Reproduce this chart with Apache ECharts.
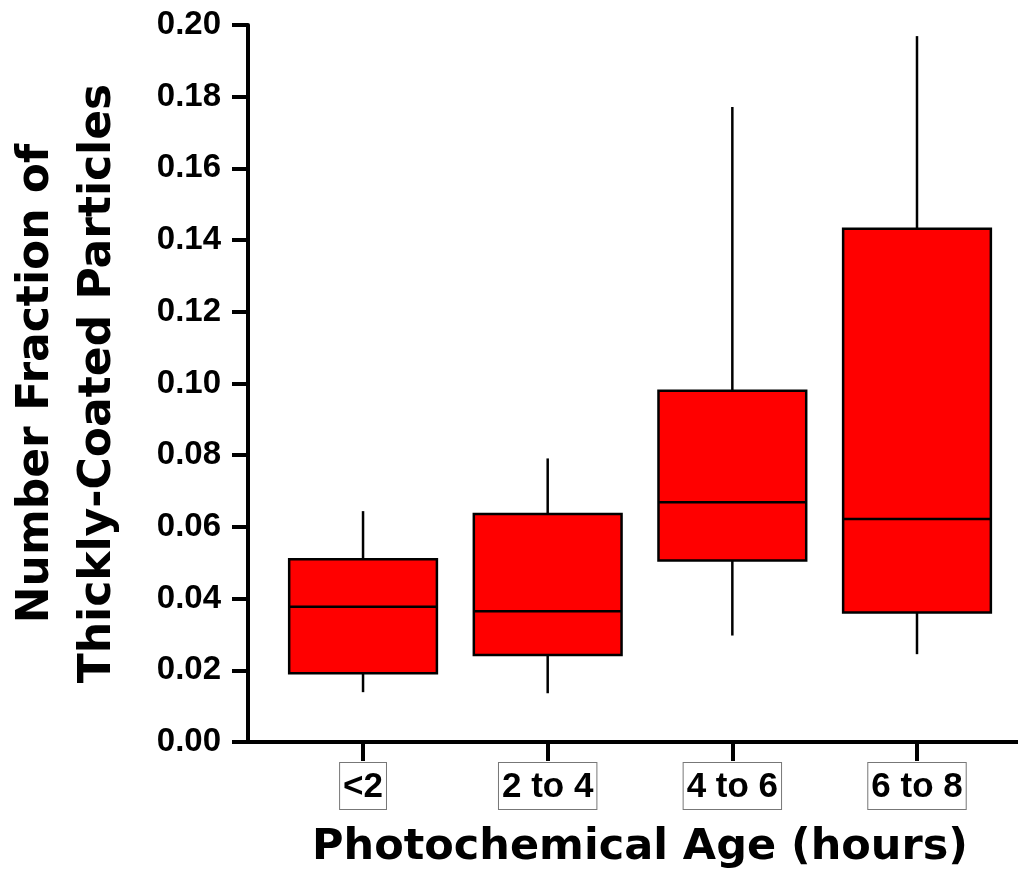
<!DOCTYPE html>
<html>
<head>
<meta charset="utf-8">
<script src="https://cdn.jsdelivr.net/npm/echarts@6/dist/echarts.min.js"></script>
<style>
html,body{margin:0;padding:0;background:#fff;}
#chart{width:1018px;height:873px;}
</style>
</head>
<body>
<div id="chart"></div>
<script>
const categories = ['<2', '2 to 4', '4 to 6', '6 to 8'];
const positions = [1, 2, 3, 4];
const whiskerLow = [0.0139, 0.0136, 0.0297, 0.0245];
const q1 = [0.0192, 0.0243, 0.0506, 0.0361];
const median = [0.0377, 0.0365, 0.0669, 0.0622];
const q3 = [0.0510, 0.0636, 0.0980, 0.1432];
const whiskerHigh = [0.0644, 0.0791, 0.1771, 0.1969];
const yTicks = [0, 0.02, 0.04, 0.06, 0.08, 0.10, 0.12, 0.14, 0.16, 0.18, 0.20];

const boxData = positions.map((p, i) => [p, whiskerLow[i], q1[i], median[i], q3[i], whiskerHigh[i]]);

const chart = echarts.init(document.getElementById('chart'), null, {renderer: 'canvas'});
const option = {
  animation: false,
  backgroundColor: '#fff',
  grid: {left: 248, top: 25, width: 770, height: 717, containLabel: false, outerBoundsMode: 'none'},
  xAxis: {
    type: 'value',
    min: 0.377,
    max: 4.547,
    splitLine: {show: false},
    axisLine: {show: true, onZero: false, lineStyle: {color: '#000', width: 4}},
    axisTick: {show: true, customValues: positions, length: 19, lineStyle: {color: '#000', width: 4}},
    axisLabel: {
      show: true,
      customValues: positions,
      margin: 21,
      formatter: function (v) { const i = positions.indexOf(Math.round(v)); return i >= 0 ? categories[i] : ''; },
      color: '#000',
      fontFamily: 'Liberation Sans, Arial, sans-serif',
      fontWeight: 'bold',
      fontSize: 35,
      lineHeight: 40,
      padding: [4, 3, 2, 3],
      borderColor: '#777',
      borderWidth: 1,
      backgroundColor: '#fff'
    },
    name: 'Photochemical Age (hours)',
    nameLocation: 'middle',
    nameGap: 84,
    nameTextStyle: {color: '#000', fontFamily: 'DejaVu Sans, sans-serif', fontWeight: 'bold', fontSize: 43, padding: [0, 0, 0, 14]}
  },
  yAxis: {
    type: 'value',
    min: 0,
    max: 0.2,
    interval: 0.02,
    splitLine: {show: false},
    axisLine: {show: true, onZero: false, lineStyle: {color: '#000', width: 4}},
    axisTick: {show: true, length: 16, lineStyle: {color: '#000', width: 4}},
    axisLabel: {
      margin: 27,
      color: '#000',
      fontFamily: 'Liberation Sans, Arial, sans-serif',
      fontWeight: 'bold',
      fontSize: 33,
      formatter: function (v) { return v.toFixed(2); }
    },
    name: 'Number Fraction of\nThickly-Coated Particles',
    nameLocation: 'middle',
    nameRotate: 90,
    nameGap: 118,
    nameTextStyle: {color: '#000', fontFamily: 'DejaVu Sans, sans-serif', fontWeight: 'bold', fontSize: 44, lineHeight: 62, align: 'center'}
  },
  series: [{
    type: 'custom',
    data: boxData,
    encode: {x: 0, y: [1, 2, 3, 4, 5]},
    renderItem: function (params, api) {
      const x = api.value(0);
      const pLow = api.coord([x, api.value(1)]);
      const pQ1 = api.coord([x, api.value(2)]);
      const pMed = api.coord([x, api.value(3)]);
      const pQ3 = api.coord([x, api.value(4)]);
      const pHigh = api.coord([x, api.value(5)]);
      const w = api.size([0.8, 0])[0];
      const cx = pMed[0];
      const lineStyle = {stroke: '#000', lineWidth: 2.5};
      return {
        type: 'group',
        children: [
          {type: 'line', shape: {x1: cx, y1: pLow[1], x2: cx, y2: pQ1[1]}, style: lineStyle},
          {type: 'line', shape: {x1: cx, y1: pQ3[1], x2: cx, y2: pHigh[1]}, style: lineStyle},
          {type: 'rect', shape: {x: cx - w / 2, y: pQ3[1], width: w, height: pQ1[1] - pQ3[1]}, style: {fill: '#ff0000', stroke: '#000', lineWidth: 2.5}},
          {type: 'line', shape: {x1: cx - w / 2, y1: pMed[1], x2: cx + w / 2, y2: pMed[1]}, style: lineStyle}
        ]
      };
    }
  }]
};
chart.setOption(option);
</script>
</body>
</html>
